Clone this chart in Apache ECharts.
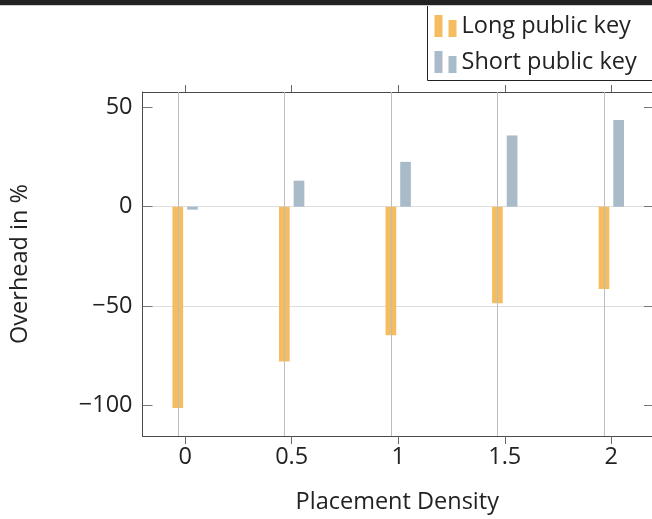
<!DOCTYPE html>
<html>
<head>
<meta charset="utf-8">
<script src="https://cdn.jsdelivr.net/npm/echarts@6/dist/echarts.min.js"></script>
<style>
  html, body { margin: 0; padding: 0; background: #fff; }
  #chart { width: 652px; height: 519px; }
</style>
</head>
<body>
<div id="chart"></div>
<script>
// Placement density values on the x axis
const densities = [0, 0.5, 1, 1.5, 2];
// Overhead (%) per density
const longKeyOverhead = [-101.5, -78, -64.8, -48.7, -41.5];
const shortKeyOverhead = [-1.5, 13.1, 22.6, 35.9, 43.7];
// Tick positions
const xTicks = [0, 0.5, 1, 1.5, 2];
const yTicks = [-100, -50, 0, 50];

const FONT = 'Open Sans';
const FS = 23.5;
const TEXT = '#222';
const FRAME = '#4a4a4a';

const toPairs = (vals) => densities.map((d, i) => [d, vals[i]]);
const minusSign = (v) => String(v).replace('-', '\u2212');

const chart = echarts.init(document.getElementById('chart'), null, { renderer: 'canvas' });

chart.setOption({
  animation: false,
  backgroundColor: '#fff',
  textStyle: { fontFamily: FONT },
  // the x range is cut at the right page edge, just before the frame's right side
  grid: { left: 142.5, top: 92, right: 0, bottom: 79, containLabel: false },
  legend: {
    orient: 'vertical',
    left: 427.5,
    top: 3,
    z: 10,
    padding: [11, 30, 9, 7],
    itemWidth: 22,
    itemHeight: 22,
    itemGap: 12,
    borderWidth: 0,
    icon: 'path://M0,0H8V22H0Z M14,5H22V22H14Z',
    textStyle: { fontFamily: FONT, fontSize: FS, color: TEXT, padding: [5, 0, 0, 0] },
    data: ['Long public key', 'Short public key']
  },
  xAxis: [
    {
      type: 'value',
      position: 'bottom',
      min: -0.2,
      max: 2.191,
      name: 'Placement Density',
      nameLocation: 'middle',
      nameGap: 54,
      nameTextStyle: { fontFamily: FONT, fontSize: FS, color: TEXT },
      axisLine: { show: true, onZero: false, lineStyle: { color: FRAME, width: 1 } },
      axisTick: { show: true, inside: false, length: 8, customValues: xTicks, lineStyle: { color: '#666' } },
      axisLabel: { show: true, customValues: xTicks, margin: 9, fontFamily: FONT, fontSize: FS, color: TEXT },
      // vertical grid lines are drawn as mark lines at each x tick
      splitLine: { show: false }
    },
    {
      type: 'value',
      position: 'top',
      min: -0.2,
      max: 2.191,
      axisLine: { show: true, onZero: false, lineStyle: { color: FRAME, width: 1 } },
      axisTick: { show: true, inside: false, length: 7, customValues: xTicks, lineStyle: { color: '#666' } },
      axisLabel: { show: false },
      splitLine: { show: false }
    }
  ],
  yAxis: [
    {
      type: 'value',
      position: 'left',
      min: -115.6,
      max: 57.8,
      name: 'Overhead in %',
      nameLocation: 'middle',
      nameGap: 110,
      nameRotate: 90,
      nameTextStyle: { fontFamily: FONT, fontSize: FS, color: TEXT },
      axisLine: { show: true, onZero: false, lineStyle: { color: FRAME, width: 1 } },
      axisTick: { show: true, inside: true, length: 10, customValues: yTicks, lineStyle: { color: '#777' } },
      axisLabel: { show: true, customValues: yTicks, margin: 10, fontFamily: FONT, fontSize: FS, color: TEXT, formatter: minusSign },
      splitLine: { show: true, showMinLine: false, showMaxLine: false, lineStyle: { color: '#dedede', width: 1 } }
    },
    {
      type: 'value',
      position: 'right',
      min: -115.6,
      max: 57.8,
      axisLine: { show: false, onZero: false },
      axisTick: { show: true, inside: true, length: 8, customValues: yTicks, lineStyle: { color: '#777' } },
      axisLabel: { show: false },
      splitLine: { show: false }
    }
  ],
  series: [
    {
      name: 'Long public key',
      type: 'bar',
      xAxisIndex: 0,
      yAxisIndex: 0,
      barWidth: 10.7,
      barGap: '37%',
      itemStyle: { color: '#F5BD5F' },
      data: toPairs(longKeyOverhead),
      markLine: {
        silent: true,
        animation: false,
        symbol: ['none', 'none'],
        label: { show: false },
        emphasis: { disabled: true },
        lineStyle: { color: '#bdbdbd', width: 1, type: 'solid' },
        data: xTicks.map((v) => ({ xAxis: v }))
      }
    },
    {
      name: 'Short public key',
      type: 'bar',
      xAxisIndex: 0,
      yAxisIndex: 0,
      barWidth: 10.7,
      barGap: '37%',
      itemStyle: { color: '#A9BBC8' },
      data: toPairs(shortKeyOverhead)
    }
  ],
  graphic: [
    {
      // legend frame, running past the right page edge
      type: 'rect',
      z: 5,
      shape: { x: 427.5, y: 0.5, width: 300, height: 80 },
      style: { fill: '#fff', stroke: '#222', lineWidth: 1 }
    },
    {
      type: 'rect',
      z: 1000,
      shape: { x: 0, y: 0, width: 652, height: 5 },
      style: { fill: '#222' }
    },
    {
      type: 'rect',
      z: 1000,
      shape: { x: 0, y: 5, width: 652, height: 1 },
      style: { fill: '#d0d0d0' }
    }
  ]
});
</script>
</body>
</html>
